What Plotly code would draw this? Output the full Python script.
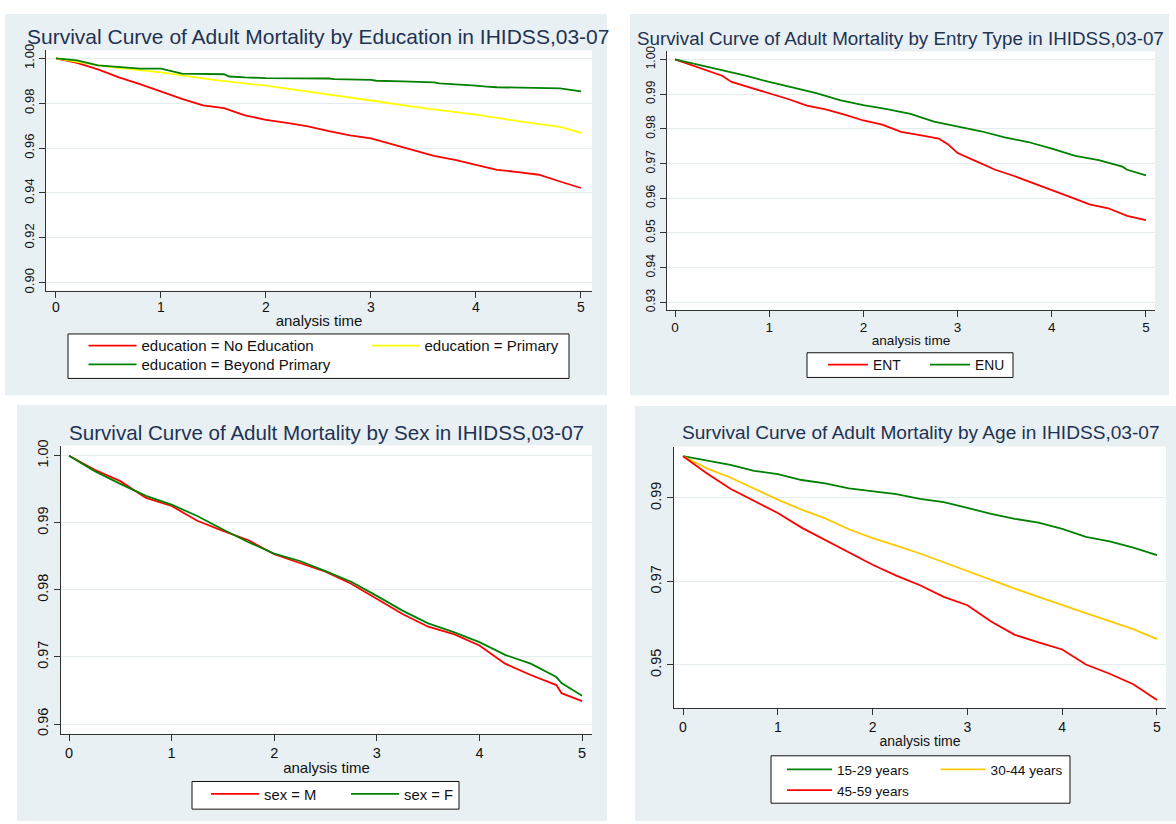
import plotly.graph_objects as go

W, H = 1176, 824

# ---------------- data ----------------
X_TICKS = [0, 1, 2, 3, 4, 5]

# Panel 1: by Education
edu_none_t = [0, 0.2, 0.4, 0.5, 0.6, 0.8, 1.0, 1.2, 1.4, 1.6, 1.8, 2.0, 2.2, 2.4, 2.6,
              2.8, 3.0, 3.2, 3.4, 3.6, 3.8, 4.0, 4.2, 4.4, 4.6, 4.8, 5.0]
edu_none_s = [1.000, 0.998, 0.9951, 0.9932, 0.9915, 0.9885, 0.9851, 0.9819, 0.979, 0.9778,
              0.9746, 0.9726, 0.9712, 0.9697, 0.9675, 0.9657, 0.9643, 0.9616, 0.9591, 0.9565,
              0.9547, 0.9525, 0.9503, 0.9493, 0.9481, 0.9451, 0.9422]
edu_prim_t = [0, 0.5, 1.0, 1.5, 2.0, 2.5, 3.0, 3.5, 4.0, 4.5, 4.8, 5.0]
edu_prim_s = [1.000, 0.9962, 0.9937, 0.9904, 0.9878, 0.9846, 0.9812, 0.9778, 0.9749, 0.9713,
              0.9694, 0.9668]
edu_beyond_t = [0, 0.2, 0.4, 0.6, 0.8, 1.0, 1.1, 1.2, 1.6, 1.65, 1.8, 2.0, 2.6, 2.65, 3.0,
                3.05, 3.3, 3.6, 3.65, 3.8, 4.0, 4.1, 4.2, 4.8, 5.0]
edu_beyond_s = [1.000, 0.9991, 0.9969, 0.9962, 0.9954, 0.9954, 0.9944, 0.9932, 0.9929, 0.9919,
                0.9915, 0.9912, 0.991, 0.9907, 0.9904, 0.99, 0.9897, 0.9893, 0.9888, 0.9885,
                0.9878, 0.9874, 0.9871, 0.9866, 0.9853]
P1_YTICKS = [0.90, 0.92, 0.94, 0.96, 0.98, 1.00]

# Panel 2: by Entry Type
ent_t = [0, 0.25, 0.5, 0.6, 0.8, 1.0, 1.2, 1.4, 1.6, 1.8, 2.0, 2.2, 2.4, 2.6, 2.8, 2.9,
         3.0, 3.2, 3.4, 3.6, 3.8, 4.0, 4.2, 4.4, 4.6, 4.8, 5.0]
ent_s = [1.000, 0.9976, 0.9953, 0.9935, 0.9919, 0.9903, 0.9886, 0.9867, 0.9856, 0.9841,
         0.9824, 0.9812, 0.9791, 0.9782, 0.9772, 0.9755, 0.9730, 0.9706, 0.9682, 0.9664,
         0.9644, 0.9625, 0.9603, 0.9582, 0.9571, 0.9549, 0.9537]
enu_t = [0, 0.25, 0.5, 0.75, 1.0, 1.25, 1.5, 1.75, 2.0, 2.25, 2.5, 2.75, 3.0, 3.25, 3.5,
         3.75, 4.0, 4.25, 4.5, 4.75, 4.8, 5.0]
enu_s = [1.000, 0.9984, 0.997, 0.9953, 0.9935, 0.9919, 0.9903, 0.9883, 0.9868, 0.9857,
         0.9843, 0.9821, 0.9808, 0.9793, 0.9775, 0.9762, 0.9743, 0.9722, 0.9710, 0.9691,
         0.9682, 0.9666]
P2_YTICKS = [0.93, 0.94, 0.95, 0.96, 0.97, 0.98, 0.99, 1.00]

# Panel 3: by Sex
sex_t = [0, 0.25, 0.5, 0.75, 1.0, 1.25, 1.5, 1.75, 2.0, 2.25, 2.5, 2.75, 3.0, 3.25, 3.5,
         3.75, 4.0, 4.25, 4.5, 4.75, 4.8, 5.0]
sex_m_s = [1.000, 0.9979, 0.9962, 0.9937, 0.9925, 0.9903, 0.9888, 0.9874, 0.9853, 0.984,
           0.9827, 0.9809, 0.9786, 0.9764, 0.9745, 0.9734, 0.9717, 0.969, 0.9673, 0.9658,
           0.9646, 0.9634]
sex_f_s = [1.000, 0.9977, 0.9958, 0.994, 0.9927, 0.991, 0.989, 0.9871, 0.9854, 0.9843,
           0.9828, 0.9812, 0.9791, 0.9769, 0.975, 0.9737, 0.9722, 0.9703, 0.969, 0.967,
           0.9661, 0.9642]
P3_YTICKS = [0.96, 0.97, 0.98, 0.99, 1.00]

# Panel 4: by Age
age_t = [0, 0.25, 0.5, 0.75, 1.0, 1.25, 1.5, 1.75, 2.0, 2.25, 2.5, 2.75, 3.0, 3.25, 3.5,
         3.75, 4.0, 4.25, 4.5, 4.75, 5.0]
age_15_s = [1.000, 0.9989, 0.9979, 0.9965, 0.9957, 0.9943, 0.9935, 0.9923, 0.9916, 0.9909,
            0.9898, 0.989, 0.9876, 0.9862, 0.985, 0.9841, 0.9826, 0.9807, 0.9796, 0.9781,
            0.9763]
age_30_s = [1.000, 0.9971, 0.9949, 0.9922, 0.9896, 0.9872, 0.9851, 0.9825, 0.9804, 0.9786,
            0.9767, 0.9746, 0.9725, 0.9703, 0.9683, 0.9663, 0.9643, 0.9624, 0.9605, 0.9586,
            0.9562]
age_45_s = [1.000, 0.9959, 0.9922, 0.9893, 0.9864, 0.9829, 0.9799, 0.977, 0.974, 0.9714,
            0.9691, 0.9663, 0.9643, 0.9604, 0.9572, 0.9554, 0.9537, 0.9501, 0.9479, 0.9454,
            0.9416]
P4_YTICKS = [0.95, 0.97, 0.99]

TITLES = [
    "Survival Curve of Adult Mortality by Education in IHIDSS,03-07",
    "Survival Curve of Adult Mortality by Entry Type in IHIDSS,03-07",
    "Survival Curve of Adult Mortality by Sex in IHIDSS,03-07",
    "Survival Curve of Adult Mortality by Age in IHIDSS,03-07",
]

# ---------------- styling ----------------
FONT = "Liberation Sans, Arial, sans-serif"
RED, YELLOW, GOLD, GREEN = "#ff0000", "#ffff00", "#ffc800", "#008000"
BG = "#e9f0f3"
GRID = "#e4ecef"
AX = "#333333"
TITLE_C = "#1e3252"
LW = 1.8


def fx(p):
    return p / W


def fy(p):
    return 1 - p / H


fig = go.Figure()


def add(t, s, name, color, n, legend):
    fig.add_trace(go.Scatter(
        x=t, y=s, mode="lines", name=name, line=dict(color=color, width=LW),
        xaxis="x" if n == 1 else f"x{n}", yaxis="y" if n == 1 else f"y{n}",
        legend=legend, hoverinfo="skip"))


add(edu_none_t, edu_none_s, "education = No Education", RED, 1, "legend")
add(edu_prim_t, edu_prim_s, "education = Primary", YELLOW, 1, "legend")
add(edu_beyond_t, edu_beyond_s, "education = Beyond Primary", GREEN, 1, "legend2")
add(ent_t, ent_s, "ENT", RED, 2, "legend3")
add(enu_t, enu_s, "ENU", GREEN, 2, "legend3")
add(sex_t, sex_m_s, "sex = M", RED, 3, "legend4")
add(sex_t, sex_f_s, "sex = F", GREEN, 3, "legend4")
add(age_t, age_15_s, "15-29 years", GREEN, 4, "legend5")
add(age_t, age_30_s, "30-44 years", GOLD, 4, "legend5")
add(age_t, age_45_s, "45-59 years", RED, 4, "legend6")

# panel geometry in pixels: plot area, background, axis ranges, fonts
panels = [
    dict(plot=(46, 592, 44, 287), bg=(5, 607, 7, 393), xr=(-0.095, 5.105), yr=(0.8965, 1.0035),
         yt=P1_YTICKS, xf=14, yf=13, atf=15, title_xy=(25, 30), tf=21, standoff=1, tls=-2),
    dict(plot=(667, 1155, 45, 307), bg=(630, 1169, 7, 393), xr=(-0.085, 5.096), yr=(0.9277, 1.0023),
         yt=P2_YTICKS, xf=13.5, yf=12, atf=13.6, title_xy=(635, 31.5), tf=18.8, standoff=1, tls=-1),
    dict(plot=(61, 592, 444, 736), bg=(17, 607, 403, 824), xr=(-0.078, 5.097), yr=(0.9585, 1.0015),
         yt=P3_YTICKS, xf=14.5, yf=14.5, atf=15, title_xy=(67, 431), tf=20.6, standoff=2, tls=0),
    dict(plot=(674, 1166, 445, 710), bg=(635, 1176, 404, 824), xr=(-0.095, 5.095), yr=(0.9396, 1.0023),
         yt=P4_YTICKS, xf=14, yf=14.5, atf=14, title_xy=(680, 431), tf=19.1, standoff=2, tls=0),
]

shapes = []
annotations = []
layout_axes = {}
for i, p in enumerate(panels, start=1):
    x0, x1, y0, y1 = p["plot"]
    bx0, bx1, by0, by1 = p["bg"]
    shapes.append(dict(type="rect", xref="paper", yref="paper", x0=fx(bx0), x1=fx(bx1),
                       y0=fy(by1), y1=fy(by0), fillcolor=BG, line=dict(width=0), layer="below"))
    shapes.append(dict(type="rect", xref="paper", yref="paper", x0=fx(x0), x1=fx(x1),
                       y0=fy(y1), y1=fy(y0), fillcolor="white", line=dict(width=0), layer="below"))
    xa = "xaxis" if i == 1 else f"xaxis{i}"
    ya = "yaxis" if i == 1 else f"yaxis{i}"
    yid = "y" if i == 1 else f"y{i}"
    xid = "x" if i == 1 else f"x{i}"
    layout_axes[xa] = dict(
        domain=[fx(x0), fx(x1)], range=list(p["xr"]), anchor=yid,
        tickvals=X_TICKS, showgrid=False, zeroline=False, showline=True, linecolor=AX,
        linewidth=1, ticks="outside", ticklen=6, tickcolor=AX, tickwidth=1,
        ticklabelstandoff=p["tls"],
        tickfont=dict(family=FONT, size=p["xf"], color="#111111"),
        title=dict(text="analysis time", font=dict(family=FONT, size=p["atf"], color="#111111"),
                   standoff=p["standoff"]))
    layout_axes[ya] = dict(
        domain=[fy(y1), fy(y0)], range=list(p["yr"]), anchor=xid,
        tickvals=p["yt"], tickformat=".2f", tickangle=-90,
        showgrid=True, gridcolor=GRID, gridwidth=1, zeroline=False, showline=True,
        linecolor=AX, linewidth=1, ticks="outside", ticklen=6, tickcolor=AX, tickwidth=1,
        tickfont=dict(family=FONT, size=p["yf"], color="#111111"))
    tx, ty = p["title_xy"]
    annotations.append(dict(text=TITLES[i - 1], xref="paper", yref="paper", x=fx(tx), y=fy(ty),
                            xanchor="left", yanchor="middle", showarrow=False,
                            font=dict(family=FONT, size=p["tf"], color=TITLE_C)))

# legend frames
for (lx0, lx1, ly0, ly1) in [(68, 569, 331, 376), (807, 1013, 350, 375),
                             (192, 459, 784, 812), (771, 1070, 758, 806)]:
    shapes.append(dict(type="rect", xref="paper", yref="paper", x0=fx(lx0), x1=fx(lx1),
                       y0=fy(ly1), y1=fy(ly0), fillcolor="white",
                       line=dict(color="#111111", width=1), layer="below"))


def leg(x, y, itemwidth, entrywidth, size):
    return dict(x=fx(x), y=fy(y), xanchor="left", yanchor="middle", orientation="h",
                bgcolor="rgba(0,0,0,0)", borderwidth=0, itemwidth=itemwidth,
                entrywidth=entrywidth, entrywidthmode="pixels",
                font=dict(family=FONT, size=size, color="#111111"))


fig.update_layout(
    width=W, height=H, margin=dict(l=0, r=0, t=0, b=0),
    paper_bgcolor="white", plot_bgcolor="white",
    font=dict(family=FONT),
    shapes=shapes, annotations=annotations,
    legend=leg(83.5, 343, 48, 220, 15),
    legend2=leg(83.5, 362, 48, 220, 15),
    legend3=leg(823, 362, 40, 47, 13.8),
    legend4=leg(206, 797, 48, 77, 14.8),
    legend5=leg(782, 772, 45, 93.6, 13.6),
    legend6=leg(782, 793, 45, 93.6, 13.6),
    **layout_axes,
)

fig.write_html(
    "out.html",
    config={"displayModeBar": False},
    post_script="document.body.style.margin='0';document.body.style.overflow='hidden';",
)
